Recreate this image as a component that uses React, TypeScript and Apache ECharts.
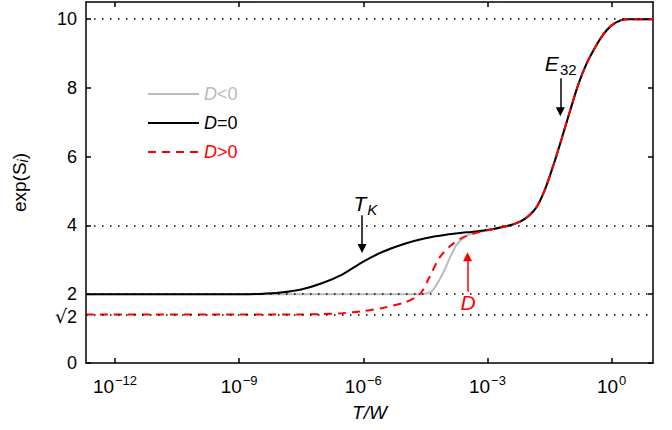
import React, { useEffect, useRef } from "react";
import * as echarts from "echarts";

// x values are log10(T/W)
const grayLogT = [-12.7, -9, -6, -4.6, -4.4, -4.3, -4.1, -3.9, -3.75, -3.55, -3.35, -3.0, -2.5, -2.2, -2.0, -1.8, -1.6, -1.4, -1.2, -1.0, -0.8, -0.6, -0.4, -0.2, 0, 0.2, 0.4, 1];
const grayS = [2.0, 2.0, 2.0, 2.0, 2.05, 2.15, 2.55, 3.08, 3.43, 3.67, 3.77, 3.86, 3.99, 4.12, 4.28, 4.56, 5.08, 5.78, 6.55, 7.35, 8.12, 8.72, 9.18, 9.56, 9.82, 9.96, 10, 10];

const blackLogT = [-12.7, -9, -8.5, -8, -7.5, -7, -6.5, -6, -5.5, -5, -4.5, -4, -3.5, -3, -2.5, -2.2, -2.0, -1.8, -1.6, -1.4, -1.2, -1.0, -0.8, -0.6, -0.4, -0.2, 0, 0.2, 0.4, 1];
const blackS = [2.0, 2.0, 2.01, 2.05, 2.14, 2.32, 2.58, 2.95, 3.25, 3.47, 3.63, 3.73, 3.8, 3.87, 3.99, 4.12, 4.28, 4.56, 5.08, 5.78, 6.55, 7.35, 8.12, 8.72, 9.18, 9.56, 9.82, 9.96, 10, 10];

const redLogT = [-12.7, -7.5, -7, -6.5, -6, -5.5, -5, -4.75, -4.6, -4.4, -4.15, -3.9, -3.65, -3.35, -3.0, -2.5, -2.2, -2.0, -1.8, -1.6, -1.4, -1.2, -1.0, -0.8, -0.6, -0.4, -0.2, 0, 0.2, 0.4, 1];
const redS = [1.414, 1.414, 1.42, 1.45, 1.51, 1.61, 1.76, 1.9, 2.05, 2.5, 3.08, 3.4, 3.62, 3.76, 3.86, 3.99, 4.12, 4.28, 4.56, 5.08, 5.78, 6.55, 7.35, 8.12, 8.72, 9.18, 9.56, 9.82, 9.96, 10, 10];

const seriesNames = ["D<0", "D=0", "D>0"];
const seriesColors = ["#bbbbbb", "#000000", "#ff0000"];

const xTickExps = [-12, -9, -6, -3, 0];
const yTicks = [0, 2, 4, 6, 8, 10];
const yLabels = [0, Math.SQRT2, 2, 4, 6, 8, 10];
const refLevels = [10, 4, 2, Math.SQRT2];

const FONT = "'Liberation Sans', Arial, Helvetica, sans-serif";

const pairs = (xs: number[], ys: number[]) => xs.map((x, i) => [x, ys[i]]);

export default function App() {
  const ref = useRef<HTMLDivElement>(null);
  useEffect(() => {
    document.body.style.margin = "0";
    const chart = echarts.init(ref.current!, null, { renderer: "svg" });
    const axisLine = { show: true, onZero: false, lineStyle: { color: "#000", width: 1.5 } };
    const tickStyle = { show: true, inside: true, length: 5, lineStyle: { color: "#000", width: 1.5 } };
    const lineCommon = {
      type: "line",
      showSymbol: false,
      symbol: "none",
      smooth: 0.3,
      silent: true,
    };
    const arrowLine = (x: number, y1: number, y2: number, color: string) => [
      { coord: [x, y1], lineStyle: { color, width: 1.5, type: "solid" } },
      { coord: [x, y2] },
    ];
    const option: any = {
      animation: false,
      grid: { left: 86, right: 19, top: 2, bottom: 67 },
      textStyle: { fontFamily: FONT },
      legend: {
        orient: "vertical",
        left: 142,
        top: 80,
        itemWidth: 51,
        itemHeight: 14,
        itemGap: 11,
        selectedMode: false,
        itemStyle: { opacity: 0 },
        data: seriesNames.map((n) => ({ name: n })),
        formatter: (name: string) => {
          const idx = seriesNames.indexOf(name);
          return `{d${idx}|D}{t${idx}|${name.slice(1)}}`;
        },
        textStyle: {
          fontFamily: FONT,
          fontSize: 18,
          rich: Object.fromEntries(
            seriesColors.flatMap((c, i) => [
              [`d${i}`, { color: c, fontSize: 18, fontStyle: "italic", fontFamily: FONT }],
              [`t${i}`, { color: c, fontSize: 18, fontFamily: FONT }],
            ])
          ),
        },
      },
      xAxis: [
        {
          type: "value",
          position: "bottom",
          min: -12.7,
          max: 1,
          axisLine,
          axisTick: { ...tickStyle, customValues: xTickExps },
          splitLine: { show: false },
          axisLabel: {
            customValues: xTickExps,
            margin: 10,
            formatter: (v: number) => `{b|10}{s|${v === 0 ? "0" : "\u2212" + -v}}`,
            rich: {
              b: { fontSize: 19, color: "#000", fontFamily: FONT, padding: [4, 0, 0, 0] },
              s: { fontSize: 13, color: "#000", fontFamily: FONT, padding: [0, 0, 8, 1] },
            },
          },
          name: "T/W",
          nameLocation: "middle",
          nameGap: 40,
          nameTextStyle: { fontSize: 19, fontStyle: "italic", color: "#000", fontFamily: FONT },
        },
        {
          type: "value",
          position: "top",
          min: -12.7,
          max: 1,
          axisLine,
          axisTick: { ...tickStyle, customValues: xTickExps },
          axisLabel: { show: false },
          splitLine: { show: false },
        },
      ],
      yAxis: [
        {
          type: "value",
          position: "left",
          min: 0,
          max: 10.5,
          axisLine,
          axisTick: { ...tickStyle, customValues: yTicks },
          splitLine: { show: false },
          axisLabel: {
            customValues: yLabels,
            margin: 9,
            fontSize: 18,
            color: "#000",
            fontFamily: FONT,
            formatter: (v: number) => (Math.abs(v - Math.SQRT2) < 1e-6 ? "{r|\u221A}{o|2}" : String(v)),
            rich: {
              r: { fontSize: 19, color: "#000", fontFamily: "'DejaVu Serif', serif", padding: [4, 0, 0, 0] },
              o: { fontSize: 18, color: "#000", fontFamily: FONT, padding: [6, 0, 0, 0] },
            },
          },
          name: "exp(S{i|i})",
          nameLocation: "middle",
          nameGap: 56,
          nameTextStyle: {
            fontSize: 19,
            color: "#000",
            fontFamily: FONT,
            rich: {
              i: { fontSize: 14, fontStyle: "italic", color: "#000", fontFamily: FONT, padding: [8, 0, 0, 0] },
            },
          },
        },
        {
          type: "value",
          position: "right",
          min: 0,
          max: 10.5,
          axisLine,
          axisTick: { ...tickStyle, customValues: yTicks },
          axisLabel: { show: false },
          splitLine: { show: false },
        },
      ],
      series: [
        {
          ...lineCommon,
          name: seriesNames[0],
          data: pairs(grayLogT, grayS),
          lineStyle: { color: seriesColors[0], width: 2 },
          itemStyle: { color: seriesColors[0] },
          z: 2,
          markLine: {
            silent: true,
            symbol: "none",
            label: { show: false },
            lineStyle: { color: "#000", width: 1.6, type: [1.5, 6.5] },
            data: refLevels.map((y) => ({ yAxis: y })),
          },
        },
        {
          ...lineCommon,
          name: seriesNames[1],
          data: pairs(blackLogT, blackS),
          lineStyle: { color: seriesColors[1], width: 2 },
          itemStyle: { color: seriesColors[1] },
          z: 3,
          markLine: {
            silent: true,
            symbol: ["none", "triangle"],
            symbolSize: 9,
            label: { show: false },
            data: [arrowLine(-6.03, 4.3, 3.33, "#000"), arrowLine(-1.24, 8.28, 7.31, "#000")],
          },
          markPoint: {
            silent: true,
            symbol: "rect",
            symbolSize: 1,
            itemStyle: { color: "rgba(0,0,0,0)" },
            data: [
              {
                coord: [-5.95, 4.65],
                label: {
                  show: true,
                  position: "inside",
                  formatter: "{t|T}{k|K}",
                  rich: {
                    t: { fontSize: 21, fontStyle: "italic", color: "#000", fontFamily: FONT },
                    k: { fontSize: 15, fontStyle: "italic", color: "#000", fontFamily: FONT, padding: [12, 0, 0, 1] },
                  },
                },
              },
              {
                coord: [-1.23, 8.72],
                label: {
                  show: true,
                  position: "inside",
                  formatter: "{e|E}{n|32}",
                  rich: {
                    e: { fontSize: 21, fontStyle: "italic", color: "#000", fontFamily: FONT },
                    n: { fontSize: 15, color: "#000", fontFamily: FONT, padding: [12, 0, 0, 1] },
                  },
                },
              },
            ],
          },
        },
        {
          ...lineCommon,
          name: seriesNames[2],
          data: pairs(redLogT, redS),
          lineStyle: { color: seriesColors[2], width: 2, type: [8, 6] },
          itemStyle: { color: seriesColors[2] },
          z: 4,
          markLine: {
            silent: true,
            symbol: ["none", "triangle"],
            symbolSize: 9,
            label: { show: false },
            data: [arrowLine(-3.48, 2.07, 3.09, "#ff0000")],
          },
          markPoint: {
            silent: true,
            symbol: "rect",
            symbolSize: 1,
            itemStyle: { color: "rgba(0,0,0,0)" },
            data: [
              {
                coord: [-3.47, 1.76],
                label: {
                  show: true,
                  position: "inside",
                  formatter: "D",
                  fontSize: 21,
                  fontStyle: "italic",
                  color: "#ff0000",
                  fontFamily: FONT,
                },
              },
            ],
          },
        },
      ],
    };
    chart.setOption(option);
    return () => chart.dispose();
  }, []);
  return <div ref={ref} style={{ width: 672, height: 430 }} />;
}
